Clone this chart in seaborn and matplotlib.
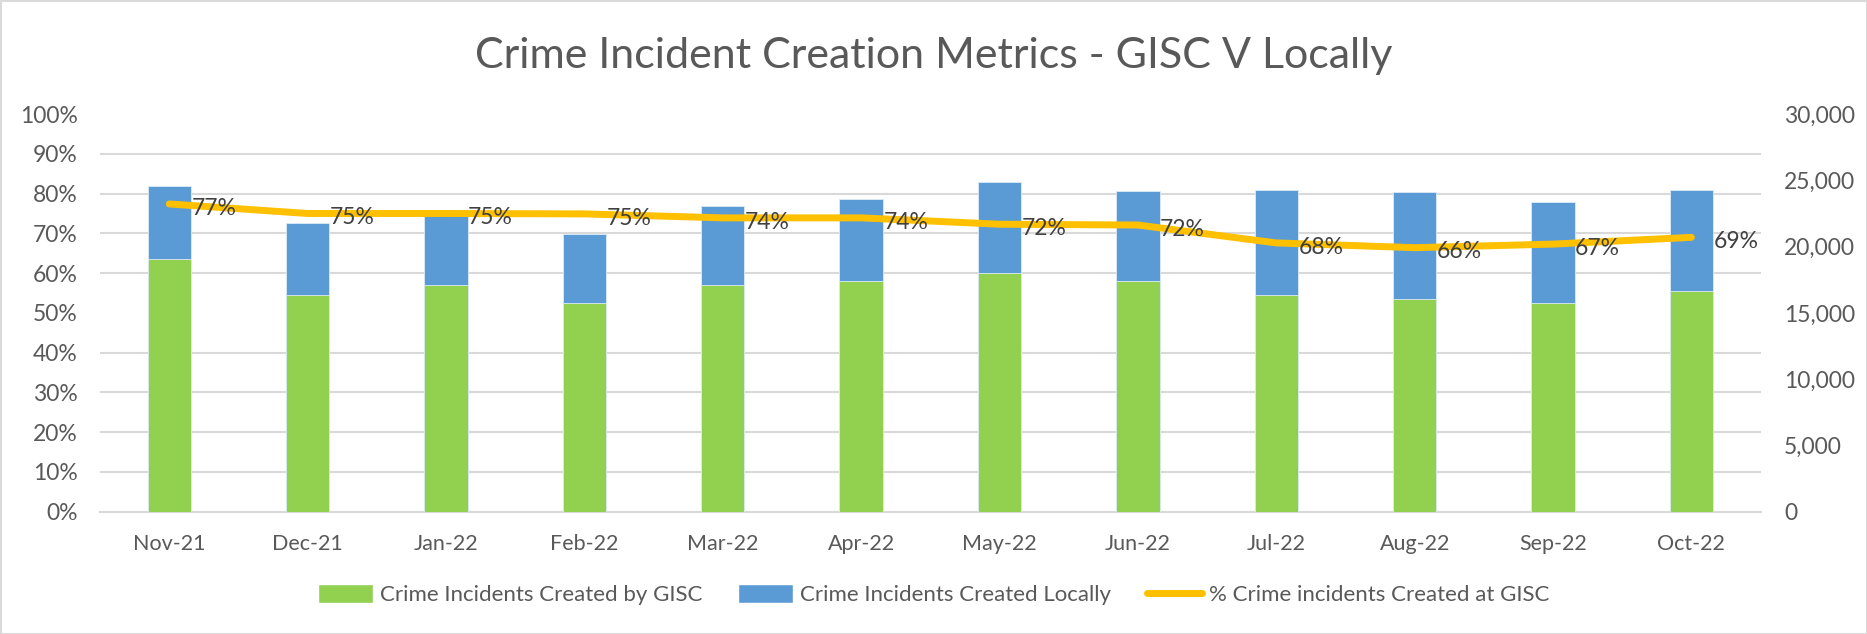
# %% Import packages

import pandas as pd
import seaborn as sns
import matplotlib.pyplot as plt
from matplotlib.patches import Patch
from matplotlib.lines import Line2D
from matplotlib.ticker import FixedLocator, PercentFormatter, StrMethodFormatter

# %% Data

MONTHS = ['Nov-21', 'Dec-21', 'Jan-22', 'Feb-22', 'Mar-22', 'Apr-22',
          'May-22', 'Jun-22', 'Jul-22', 'Aug-22', 'Sep-22', 'Oct-22']
GISC = [19040, 16350, 17070, 15740, 17070, 17430,
        18000, 17380, 16350, 16020, 15740, 16650]
LOCAL = [5530, 5400, 5660, 5230, 5990, 6130,
         6840, 6810, 7890, 8100, 7650, 7620]
PCT_GISC = [0.774, 0.750, 0.750, 0.749, 0.739, 0.739,
            0.723, 0.721, 0.676, 0.664, 0.673, 0.690]

# %% Colours / style

GREEN = '#92D050'
BLUE = '#5B9BD5'
YELLOW = '#FFC000'
TEXT = '#595959'
GRID = '#D9D9D9'

sns.set_theme(style='white')
plt.rcParams['font.family'] = ['Lato', 'DejaVu Sans']

df = pd.DataFrame({'month': MONTHS, 'gisc': GISC, 'local': LOCAL, 'pct': PCT_GISC})
df['total'] = df['gisc'] + df['local']

# %% Figure

fig = plt.figure(figsize=(18.67, 6.34), dpi=100, edgecolor=GRID, linewidth=2)
ax_bar = fig.add_axes([0.0536, 0.193, 0.8894, 0.627])

# stacked bars: totals in blue, GISC part in green on top of it
sns.barplot(data=df, x='month', y='total', color=BLUE, width=0.314,
            saturation=1, ax=ax_bar, zorder=2)
sns.barplot(data=df, x='month', y='gisc', color=GREEN, width=0.314,
            saturation=1, ax=ax_bar, zorder=3)
for p in ax_bar.patches:
    p.set_edgecolor('#DDEBF7')
    p.set_linewidth(0.6)

# percentage line on its own axis, drawn above the bars
ax_pct = ax_bar.twinx()
ax_pct.yaxis.tick_left()
ax_bar.yaxis.tick_right()

ax_bar.set_ylim(0, 30000)
ax_bar.set_xlim(-0.5, len(MONTHS) - 0.5)
ax_bar.yaxis.set_major_locator(FixedLocator(range(0, 30001, 5000)))
ax_bar.yaxis.set_major_formatter(StrMethodFormatter('{x:,.0f}'))
ax_bar.yaxis.set_minor_locator(FixedLocator(range(0, 30001, 3000)))
ax_bar.grid(which='minor', axis='y', color=GRID, linewidth=1.5, zorder=0)
ax_bar.set_axisbelow(True)
ax_bar.tick_params(axis='y', which='both', length=0, labelsize=16.5, labelcolor=TEXT, pad=17)

# category tick marks between the bars, labels under the bars
ax_bar.set_xticks([i - 0.5 for i in range(len(MONTHS) + 1)])
ax_bar.set_xticklabels([])
ax_bar.set_xticks(range(len(MONTHS)), minor=True)
ax_bar.set_xticklabels(MONTHS, minor=True)
ax_bar.tick_params(axis='x', which='major', length=7, width=1.5, color=GRID, direction='out')
ax_bar.tick_params(axis='x', which='minor', length=0, labelsize=15.5, labelcolor=TEXT, pad=16)
ax_bar.set_xlabel('')
ax_bar.set_ylabel('')
for side in ['left', 'right', 'top']:
    ax_bar.spines[side].set_visible(False)
ax_bar.spines['bottom'].set_color(GRID)
ax_bar.spines['bottom'].set_linewidth(1.5)

sns.lineplot(data=df, x='month', y='pct', color=YELLOW, linewidth=5,
             ax=ax_pct, sort=False, solid_capstyle='round')
ax_pct.set_ylim(0, 1)
ax_pct.yaxis.set_major_locator(FixedLocator([i / 10 for i in range(11)]))
ax_pct.yaxis.set_major_formatter(PercentFormatter(1.0, decimals=0))
ax_pct.tick_params(axis='y', length=0, labelsize=16.5, labelcolor=TEXT, pad=16)
ax_pct.set_ylabel('')
for side in ['left', 'right', 'top', 'bottom']:
    ax_pct.spines[side].set_visible(False)

for i, v in enumerate(PCT_GISC):
    ax_pct.annotate(f'{v:.0%}', (i, v), xytext=(16, -3), textcoords='offset points',
                    ha='left', va='center', fontsize=16.5, color='#404040')

fig.suptitle('Crime Incident Creation Metrics - GISC V Locally', y=0.912, va='center',
             fontsize=31, color=TEXT)

handles = [Patch(facecolor=GREEN, label='Crime Incidents Created by GISC'),
           Patch(facecolor=BLUE, label='Crime Incidents Created Locally'),
           Line2D([0], [0], color=YELLOW, linewidth=5, solid_capstyle='round',
                  label='% Crime incidents Created at GISC')]
fig.legend(handles=handles, loc='center', bbox_to_anchor=(0.5, 0.062), ncol=3,
           frameon=False, fontsize=16, labelcolor=TEXT, handlelength=2.5,
           handleheight=0.9, columnspacing=1.6, handletextpad=0.3)

plt.savefig('out.png', dpi=100, edgecolor=fig.get_edgecolor())
